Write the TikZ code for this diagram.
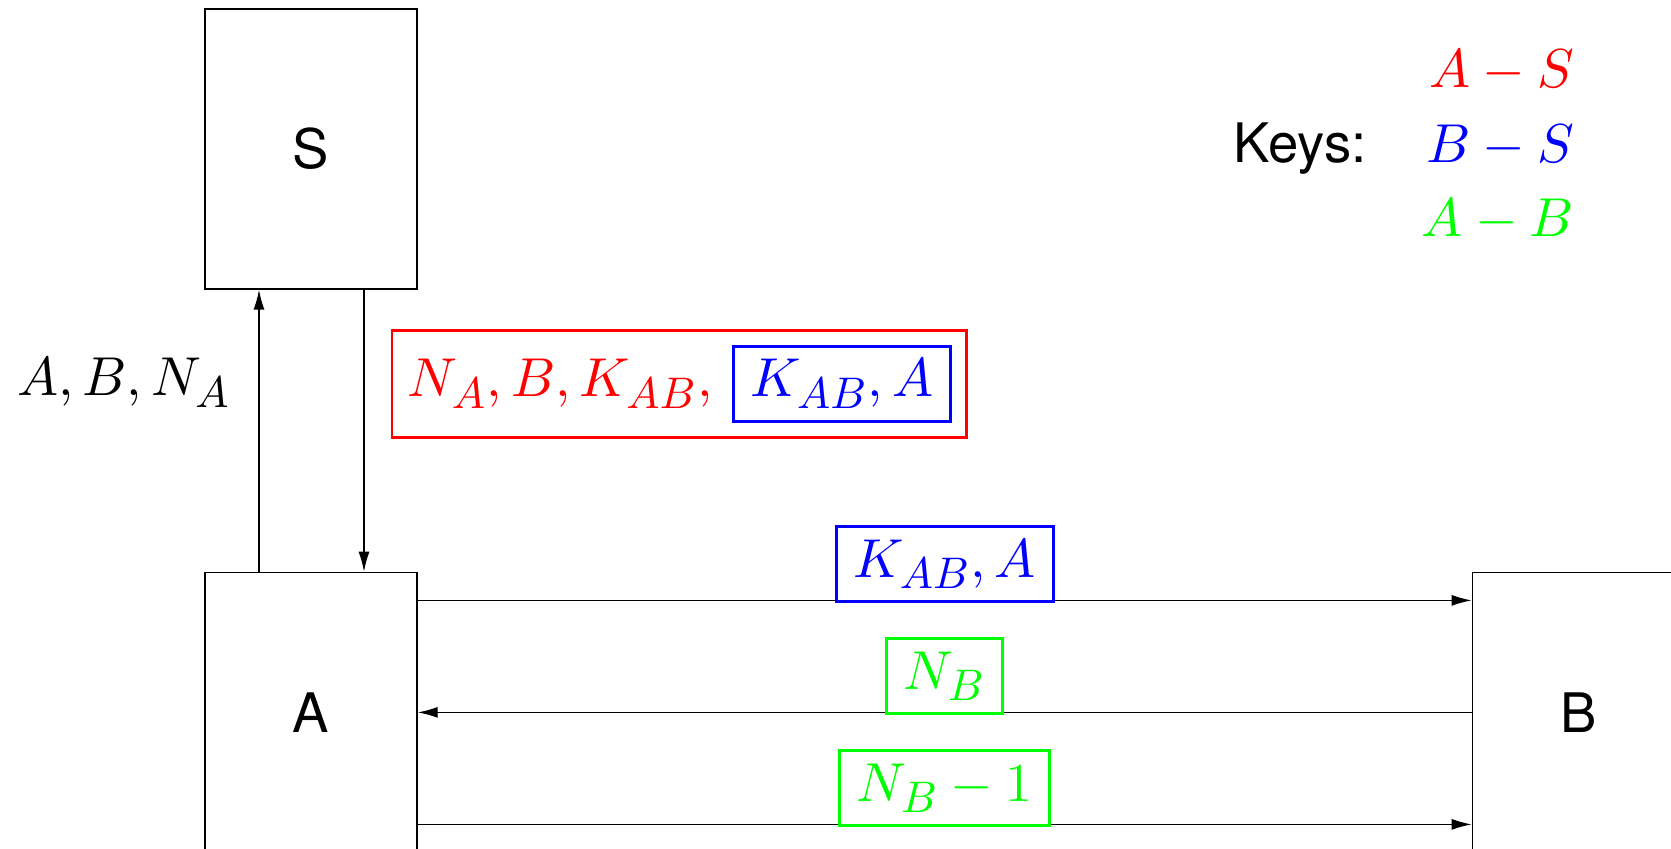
\RequirePackage{fix-cm}
\documentclass[tikz,border=0pt]{standalone}
\usepackage{amsmath,amssymb}
\usepackage{xcolor}
\usepackage{fontspec}
\setsansfont{TeX Gyre Heros}
\usepackage{tikz}
\usetikzlibrary{arrows.meta,positioning,fit}
\DeclareFontShape{OML}{cmm}{m}{it}{<->cmmi10}{}
\DeclareMathSizes{15.6}{15.6}{12.6}{10}

\begin{document}
\begin{tikzpicture}[font=\fontsize{15.6}{18.5}\selectfont,
  party/.style={draw, minimum width=21.2mm, minimum height=28mm, font=\fontsize{15.5}{18.5}\selectfont\sffamily},
  msg/.style={-{Latex[length=2mm,width=1.1mm]}},
  keybox/.style={draw, line width=0.85pt, inner xsep=1.7mm, inner ysep=1.3mm},
  key/.style={anchor=base east, inner sep=0pt}]
\useasboundingbox (0,0) rectangle (16.71,8.49);
\clip (0,0) rectangle (16.71,8.49);
\node[party] (S) at (3.11,7.00) {S};
\node[party, below=28.2mm of S] (A) {A};
\node[party, right=105.4mm of A] (B) {B};
\draw[msg] ([xshift=-5.2mm]A.north) -- node[pos=0.67, left=2.8mm, inner sep=0pt] (m1) {$A, B, N_A$} ([xshift=-5.2mm]S.south);
\draw[msg] ([xshift=5.3mm]S.south) -- ([xshift=5.3mm]A.north);
\node[anchor=base west, inner sep=0pt, text=red] (m2a) at (4.07,4.52) {$N_A, B, K_{AB},$};
\node[keybox, draw=blue, text=blue, base right=1.9mm of m2a] (m2b) {$K_{AB}, A$};
\node[draw=red, line width=0.85pt, inner sep=1.5mm, fit=(m2a)(m2b)] (m2) {};
\draw[msg] ([yshift=11.2mm]A.east) -- node[keybox, draw=blue, text=blue, above, yshift=-0.25mm] (m3) {$K_{AB}, A$} ([yshift=11.2mm]B.west);
\draw[msg] (B.west) -- node[keybox, draw=green, text=green, above, yshift=-0.25mm] (m4) {$N_B$} (A.east);
\draw[msg] ([yshift=-11.2mm]A.east) -- node[keybox, draw=green, text=green, above, yshift=-0.25mm] (m5) {$N_B - 1$} ([yshift=-11.2mm]B.west);
\node[key, text=blue] (kbs) at (15.75,6.86) {$B - S$};
\node[key, text=red] (kas) at ([yshift=7.5mm]kbs.base east) {$A - S$};
\node[key, text=green] (kab) at ([yshift=-7.4mm]kbs.base east) {$A - B$};
\node[base left=5.8mm of kbs, inner sep=0pt, font=\fontsize{15.5}{18.5}\selectfont\sffamily] (keys) {Keys:};
\end{tikzpicture}
\end{document}
